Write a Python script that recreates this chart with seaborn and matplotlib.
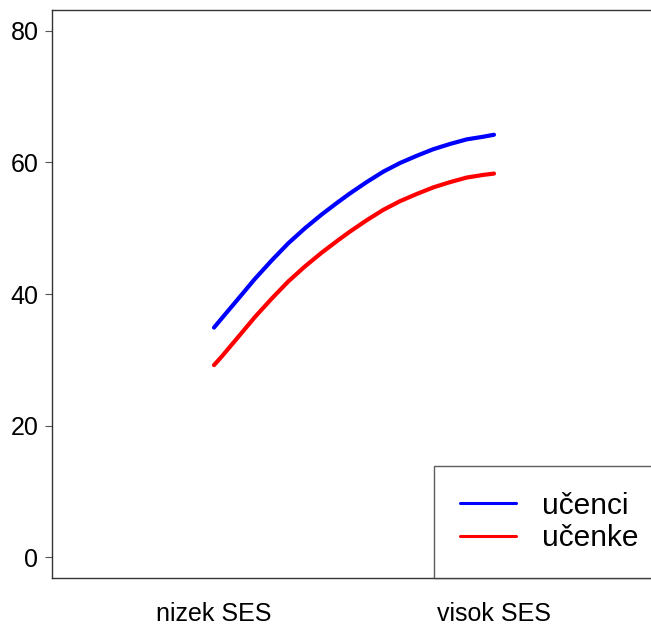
import matplotlib
matplotlib.use("Agg")
import matplotlib.pyplot as plt
from matplotlib.lines import Line2D
import seaborn as sns
import pandas as pd

# SES position (0 = low, 1 = high) and predicted scores for each group
ses = [0.0, 0.0275, 0.087, 0.146, 0.206, 0.265, 0.325, 0.385, 0.444, 0.486,
       0.545, 0.605, 0.664, 0.724, 0.783, 0.843, 0.903, 0.962, 1.0]
ucenci = [34.9, 36.3, 39.3, 42.3, 45.1, 47.7, 50.0, 52.1, 54.0, 55.3,
          57.0, 58.6, 59.9, 61.0, 62.0, 62.8, 63.5, 63.9, 64.2]
ucenke = [29.2, 30.5, 33.5, 36.5, 39.3, 41.9, 44.2, 46.3, 48.2, 49.5,
          51.2, 52.8, 54.1, 55.2, 56.2, 57.0, 57.7, 58.1, 58.3]

groups = ["učenci", "učenke"]
colors = ["#0000ff", "#ff0000"]
x_ticks = [0, 1]
x_labels = ["nizek SES", "visok SES"]
y_ticks = [0, 20, 40, 60, 80]

df = pd.concat([
    pd.DataFrame({"ses": ses, "score": ucenci, "group": groups[0]}),
    pd.DataFrame({"ses": ses, "score": ucenke, "group": groups[1]}),
])

sns.set_style("white")
plt.rcParams["font.family"] = ["Liberation Sans", "DejaVu Sans"]
plt.rcParams["text.color"] = "black"
plt.rcParams["xtick.color"] = "black"
plt.rcParams["ytick.color"] = "black"

W, H = 651, 627
fig = plt.figure(figsize=(W / 100, H / 100), dpi=100)
left, right, top, bottom = 52.3, 660, 10, 578
ax = fig.add_axes([left / W, 1 - bottom / H, (right - left) / W, (bottom - top) / H])

sns.lineplot(data=df, x="ses", y="score", hue="group", hue_order=groups,
             palette=dict(zip(groups, colors)), linewidth=3.0, sort=False,
             ax=ax, legend=False)
for ln in ax.get_lines():
    ln.set_solid_capstyle("round")
    ln.set_solid_joinstyle("round")

ax.set_xlim(-0.5775, (right - 214) / 280)
ax.set_ylim(-3.14, 83.15)
ax.set_xticks(x_ticks)
ax.set_xticklabels(x_labels, fontsize=18)
ax.set_yticks(y_ticks)
ax.set_yticklabels([str(v) for v in y_ticks], fontsize=18)
ax.tick_params(axis="x", length=0, pad=17)
ax.tick_params(axis="y", length=5, width=0.8, color="#555555", pad=5, left=True)
ax.set_xlabel("")
ax.set_ylabel("")
for s in ax.spines.values():
    s.set_color("#333333")
    s.set_linewidth(1.0)

handles = [Line2D([], [], color=c, linewidth=2.2) for c in colors]
lx = (434 - left) / (right - left)
leg = ax.legend(handles, groups, loc="lower left", bbox_to_anchor=(lx, 0),
                fontsize=21.5, frameon=True, fancybox=False, borderaxespad=0,
                handlelength=1.9, handletextpad=0.87, borderpad=0.86,
                labelspacing=0.15)
leg.get_frame().set_edgecolor("#333333")
leg.get_frame().set_linewidth(1.0)

fig.savefig("out.png", dpi=100)
